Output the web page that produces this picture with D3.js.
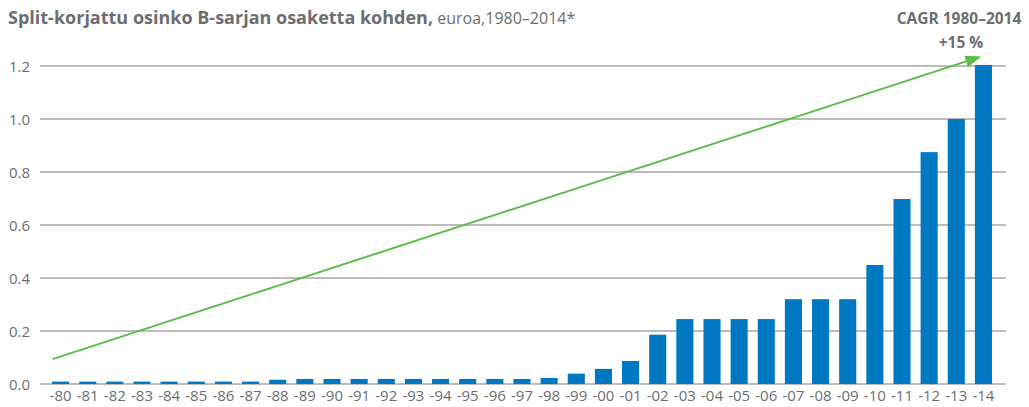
<!DOCTYPE html>
<html>
<head>
<meta charset="utf-8">
<script src="https://cdn.jsdelivr.net/npm/d3@7"></script>
<style>
  body { margin: 0; background: #fff; }
  svg { display: block; font-family: "Open Sans", "Noto Sans", sans-serif; }
</style>
</head>
<body>
<script>
const years = ["-80", "-81", "-82", "-83", "-84", "-85", "-86", "-87", "-88", "-89",
    "-90", "-91", "-92", "-93", "-94", "-95", "-96", "-97", "-98", "-99",
    "-00", "-01", "-02", "-03", "-04", "-05", "-06", "-07", "-08", "-09",
    "-10", "-11", "-12", "-13", "-14"];
const dividends = [0.009, 0.009, 0.009, 0.009, 0.009, 0.009, 0.009, 0.009, 0.016, 0.019,
    0.019, 0.019, 0.019, 0.019, 0.019, 0.019, 0.019, 0.019, 0.023, 0.039,
    0.057, 0.087, 0.186, 0.245, 0.245, 0.245, 0.245, 0.32, 0.32, 0.32,
    0.449, 0.698, 0.875, 1.0, 1.204];
const yTicks = [0, 0.2, 0.4, 0.6, 0.8, 1.0, 1.2];
// trend arrow, start/end values at first and last year
const cagrLine = [{ year: "-80", value: 0.094 }, { year: "-14", value: 1.236 }];

const w = 1029;
const h = 407;
const grey = "#6d6e70";

const svg = d3.select("body").append("svg").attr("width", w).attr("height", h);

const x = d3.scaleBand().domain(years).range([47, 997]).paddingInner(0.37).paddingOuter(0.185);
const y = d3.scaleLinear().domain([0, 1.2]).range([384, 66]);

// grid
svg.append("g")
    .selectAll("line")
    .data(yTicks)
    .enter()
    .append("line")
    .attr("x1", 40)
    .attr("x2", 1006)
    .attr("y1", d => y(d))
    .attr("y2", d => y(d))
    .attr("stroke", "#a6a6a6")
    .attr("stroke-width", 1.3);

svg.append("g")
    .selectAll("text")
    .data(yTicks)
    .enter()
    .append("text")
    .attr("x", 30)
    .attr("y", d => y(d) + 5.5)
    .attr("text-anchor", "end")
    .attr("font-size", 15)
    .attr("fill", grey)
    .text(d => d3.format(".1f")(d));

// bars
svg.append("g")
    .selectAll("rect")
    .data(dividends)
    .enter()
    .append("rect")
    .attr("x", (d, i) => x(years[i]))
    .attr("width", x.bandwidth())
    .attr("y", d => y(d))
    .attr("height", d => y(0) - y(d))
    .attr("fill", "#0079c2");

svg.append("g")
    .selectAll("text")
    .data(years)
    .enter()
    .append("text")
    .attr("x", d => x(d) + x.bandwidth() / 2)
    .attr("y", 401)
    .attr("text-anchor", "middle")
    .attr("font-size", 15)
    .attr("fill", grey)
    .text(d => d);

// trend arrow
const xc = d => x(d) + x.bandwidth() / 2;
const x0 = xc(cagrLine[0].year) - 8;
const y0 = y(cagrLine[0].value);
const x1 = xc(cagrLine[1].year) - 2;
const y1 = y(cagrLine[1].value);
const ang = Math.atan2(y1 - y0, x1 - x0);
const headLen = 16;
const headW = 6;
const bx = x1 - headLen * Math.cos(ang);
const by = y1 - headLen * Math.sin(ang);

svg.append("line")
    .attr("x1", x0)
    .attr("y1", y0)
    .attr("x2", bx)
    .attr("y2", by)
    .attr("stroke", "#5cbd48")
    .attr("stroke-width", 2);

svg.append("path")
    .attr("d", `M${x1},${y1}L${bx - headW * Math.sin(ang)},${by + headW * Math.cos(ang)}L${bx + headW * Math.sin(ang)},${by - headW * Math.cos(ang)}Z`)
    .attr("fill", "#5cbd48");

// title
const title = svg.append("text")
    .attr("x", 8)
    .attr("y", 24)
    .attr("fill", grey);
title.append("tspan").attr("font-weight", "bold").attr("font-size", 18).text("Split-korjattu osinko B-sarjan osaketta kohden,");
title.append("tspan").attr("font-size", 16).text(" euroa,1980–2014*");

svg.append("text")
    .attr("x", 959)
    .attr("y", 24)
    .attr("text-anchor", "middle")
    .attr("font-size", 15.5)
    .attr("font-weight", "bold")
    .attr("fill", grey)
    .text("CAGR 1980–2014");

svg.append("text")
    .attr("x", 961)
    .attr("y", 48)
    .attr("text-anchor", "middle")
    .attr("font-size", 15.5)
    .attr("font-weight", "bold")
    .attr("fill", grey)
    .text("+15 %");
</script>
</body>
</html>
